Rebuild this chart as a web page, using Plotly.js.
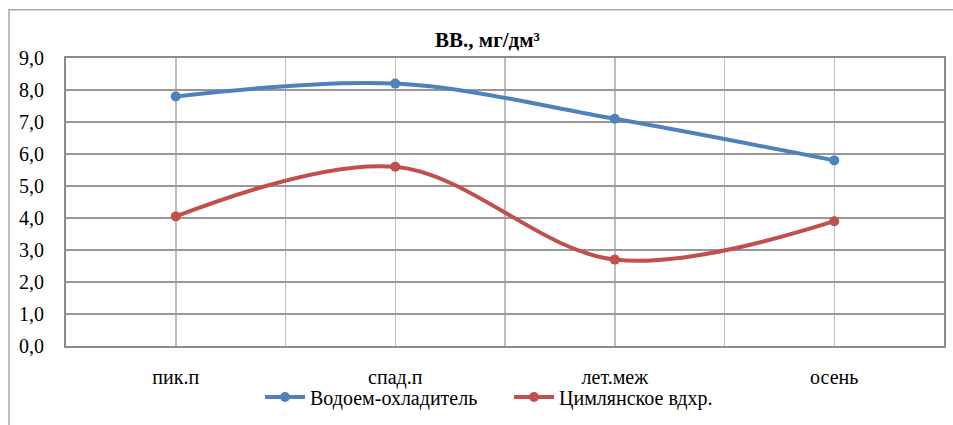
<!DOCTYPE html>
<html>
<head>
<meta charset="utf-8">
<script src="https://cdn.plot.ly/plotly-3.0.1.min.js"></script>
<style>
  html, body { margin: 0; padding: 0; background: #ffffff; }
  #chart { width: 953px; height: 425px; }
</style>
</head>
<body>
<div id="chart"></div>
<script>
// Seasonal phases (x categories)
const categories = ['пик.п', 'спад.п', 'лет.меж', 'осень'];

// Suspended solids, mg/dm³
const coolingPond = [7.8, 8.2, 7.1, 5.8];
const tsimlyanskReservoir = [4.05, 5.6, 2.7, 3.9];

const seriesNames = ['Водоем-охладитель', 'Цимлянское вдхр.'];
const chartTitle = 'ВВ., мг/дм³';

const yTicks = [0, 1, 2, 3, 4, 5, 6, 7, 8, 9];

const xIdx = categories.map((c, i) => i);
const xMinor = categories.map((c, i) => i - 0.5).concat([categories.length - 0.5]);

const FONT = '"Times New Roman", "Liberation Serif", serif';

const traces = [
  {
    x: xIdx, y: coolingPond, name: seriesNames[0],
    type: 'scatter', mode: 'lines+markers',
    line: { color: '#4F81BD', width: 4, shape: 'spline', smoothing: 1 },
    marker: { color: '#4F81BD', size: 10 }
  },
  {
    x: xIdx, y: tsimlyanskReservoir, name: seriesNames[1],
    type: 'scatter', mode: 'lines+markers',
    line: { color: '#C0504D', width: 4, shape: 'spline', smoothing: 1 },
    marker: { color: '#C0504D', size: 10 }
  }
];

const layout = {
  width: 953, height: 425,
  margin: { l: 66, r: 9, t: 58, b: 74 },
  paper_bgcolor: '#ffffff', plot_bgcolor: '#ffffff',
  separators: ', ',
  font: { family: FONT, size: 20, color: '#000000' },
  showlegend: true,
  title: {
    text: '<b>' + chartTitle + '</b>',
    font: { family: FONT, size: 21, color: '#000000' },
    x: 0.48, xanchor: 'center', xref: 'paper',
    y: 1 - 40 / 425, yanchor: 'middle'
  },
  xaxis: {
    range: [-0.5, categories.length - 0.5],
    tickvals: xIdx, ticktext: categories,
    showgrid: true, gridcolor: '#bdbdbd', gridwidth: 1.5,
    minor: { tickvals: xMinor, showgrid: true, gridcolor: '#bdbdbd', gridwidth: 1.5, ticks: '' },
    zeroline: false,
    showline: true, linecolor: '#8c8c8c', linewidth: 2, mirror: true,
    ticks: 'outside', ticklen: 12, tickcolor: 'rgba(0,0,0,0)',
    tickfont: { family: FONT, size: 20, color: '#000000' },
    fixedrange: true
  },
  yaxis: {
    range: [0, 9], tickvals: yTicks, tickformat: '.1f',
    showgrid: true, gridcolor: '#979797', gridwidth: 1.8,
    zeroline: false,
    showline: true, linecolor: '#8c8c8c', linewidth: 2, mirror: true,
    ticks: 'outside', ticklen: 16, tickcolor: 'rgba(0,0,0,0)',
    tickfont: { family: FONT, size: 20, color: '#000000' },
    fixedrange: true
  },
  legend: {
    orientation: 'h',
    x: (260 - 66) / 878, xanchor: 'left',
    y: -0.177, yanchor: 'middle',
    font: { family: FONT, size: 20, color: '#000000' },
    itemwidth: 40,
    entrywidth: 194, entrywidthmode: 'pixels',
    bgcolor: 'rgba(0,0,0,0)'
  },
  shapes: [
    // outer chart frame
    {
      type: 'rect', xref: 'paper', yref: 'paper',
      x0: (9 - 66) / 878, x1: 1.03,
      y0: -0.3, y1: (351 - 9) / 293,
      line: { color: '#a6a6a6', width: 1.5 },
      fillcolor: 'rgba(0,0,0,0)', layer: 'below'
    }
  ]
};

Plotly.newPlot('chart', traces, layout, { displayModeBar: false, staticPlot: true });
</script>
</body>
</html>
